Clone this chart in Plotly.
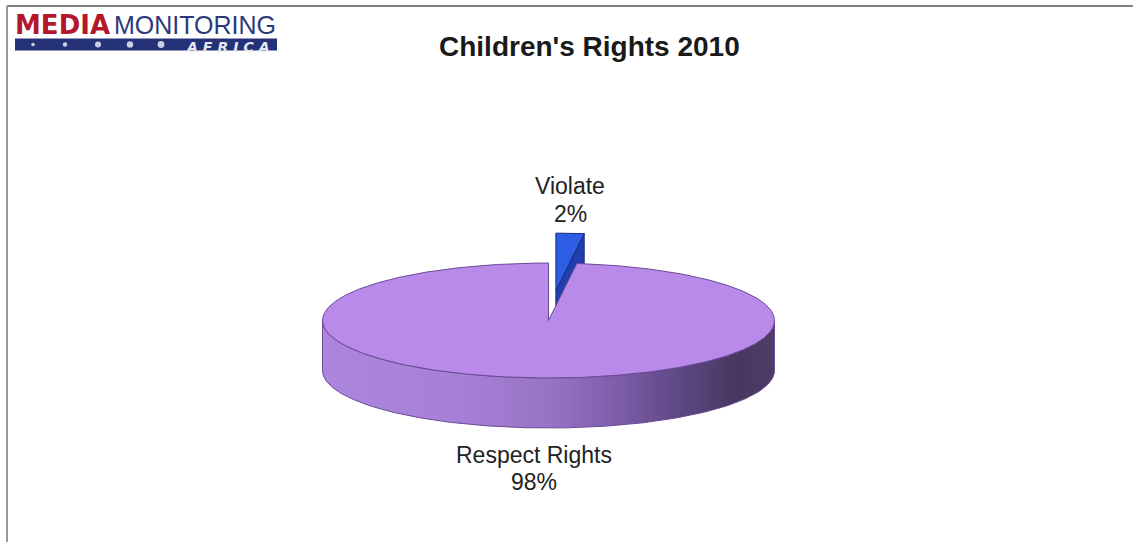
import numpy as np
import plotly.graph_objects as go

# ---- data ----
labels = ["Violate", "Respect Rights"]
values = [2, 98]
top_colors = ["#2c5de4", "#b98aea"]
wall_colors = ["#1f3fae", "#9a74c8"]
edge_colors = ["#1a2a7a", "#6a4a94"]
explode = [0.52, 0.0]
title_text = "Children's Rights 2010"

# ---- geometry (pixel space) ----
W, H = 1133, 542
CX, CY, RX, RY, DEPTH = 548.5, 320.5, 226.0, 57.5, 50.0

total = sum(values)
fracs = [v / total for v in values]
starts = np.concatenate([[0.0], np.cumsum(fracs)[:-1]]) * 360.0
ends = np.cumsum(fracs) * 360.0


def ell(theta_deg, ox=0.0, oy=0.0, dz=0.0):
    t = np.radians(theta_deg)
    return CX + ox + RX * np.sin(t), CY + oy - RY * np.cos(t) + dz


def offset(i):
    mid = np.radians((starts[i] + ends[i]) / 2)
    e = explode[i]
    return e * RX * np.sin(mid), -e * RY * np.cos(mid)


fig = go.Figure()


def poly(xs, ys, fill, line_color, width=1, grad=None):
    kw = dict(x=list(xs) + [xs[0]], y=list(ys) + [ys[0]], mode="lines", fill="toself",
              line=dict(color=line_color, width=width), hoverinfo="skip", showlegend=False)
    if grad is not None:
        kw["fillgradient"] = dict(type="horizontal", colorscale=grad)
    else:
        kw["fillcolor"] = fill
    fig.add_trace(go.Scatter(**kw))


side_grad = [[0.0, "#ab86dc"], [0.3, "#a680d6"], [0.5, "#9874c6"], [0.65, "#7e5eaa"],
             [0.8, "#5c4682"], [0.92, "#47375f"], [1.0, "#4e3d69"]]

# draw back slice(s) first: order by how far back the slice midpoint is
order = sorted(range(len(values)), key=lambda i: np.cos(np.radians((starts[i] + ends[i]) / 2)), reverse=True)

for i in order:
    ox, oy = offset(i)
    s, e = starts[i], ends[i]
    ax, ay = CX + ox, CY + oy
    # outer wall (front half only, 90..270)
    lo, hi = max(s, 90.0), min(e, 270.0)
    if hi > lo:
        th = np.linspace(lo, hi, 200)
        tx, ty = ell(th, ox, oy)
        bx, by = ell(th[::-1], ox, oy, DEPTH)
        poly(np.concatenate([tx, bx]), np.concatenate([ty, by]), wall_colors[i], edge_colors[i],
             grad=side_grad if i == 1 else None)
    # radial walls facing the viewer
    for th_edge, visible in ((s, np.sin(np.radians(s)) < -1e-9), (e, np.sin(np.radians(e)) > 1e-9)):
        if visible:
            px, py = ell(th_edge, ox, oy)
            poly([ax, px, px, ax], [ay, py, py + DEPTH, ay + DEPTH], wall_colors[i], edge_colors[i])
    # top face
    th = np.linspace(s, e, max(int((e - s) * 2), 12))
    tx, ty = ell(th, ox, oy)
    poly(np.concatenate([[ax], tx]), np.concatenate([[ay], ty]), top_colors[i], edge_colors[i])

# ---- annotations ----
pct = [f"{round(f * 100)}%" for f in fracs]
lab_font = dict(family="Liberation Sans, Arial, sans-serif", size=23, color="#222222")
label_pos = [(570, 186, 213.5), (534, 455, 482)]
ann = []
for i, (lx, ly1, ly2) in enumerate(label_pos):
    ann.append(dict(x=lx, y=ly1, text=labels[i], showarrow=False, xref="x", yref="y",
                    xanchor="center", yanchor="middle", font=lab_font))
    ann.append(dict(x=lx, y=ly2, text=pct[i], showarrow=False, xref="x", yref="y",
                    xanchor="center", yanchor="middle", font=lab_font))

ann.append(dict(x=589, y=46, text=f"<b>{title_text}</b>", showarrow=False, xref="x", yref="y",
                xanchor="center", yanchor="middle",
                font=dict(family="Liberation Sans, Arial, sans-serif", size=28, color="#1a1a1a")))

# logo text
ann.append(dict(x=13, y=25, text="<b>MEDIA</b>", showarrow=False, xref="x", yref="y",
                xanchor="left", yanchor="middle",
                font=dict(family="DejaVu Sans, sans-serif", size=26, color="#b3172c")))
ann.append(dict(x=112, y=25, text="MONITORING", showarrow=False, xref="x", yref="y",
                xanchor="left", yanchor="middle",
                font=dict(family="Liberation Sans, Arial, sans-serif", size=25, color="#2c3a7c")))

shapes = [
    dict(type="line", xref="x", yref="y", x0=7, x1=W, y0=6, y1=6, line=dict(color="#808080", width=2)),
    dict(type="line", xref="x", yref="y", x0=7, x1=7, y0=6, y1=H, line=dict(color="#9a9a9a", width=2)),
    dict(type="rect", xref="x", yref="y", x0=15, x1=277, y0=38.5, y1=50.5, line=dict(width=0),
         fillcolor="#253278"),
]
for dx, r in zip([33, 65, 98, 130, 161], [1.8, 2.2, 3.0, 3.2, 3.4]):
    shapes.append(dict(type="circle", xref="x", yref="y", x0=dx - r, x1=dx + r, y0=44.5 - r, y1=44.5 + r,
                       line=dict(width=0), fillcolor="#c9d0e6"))
ann.append(dict(x=230, y=47, text="<b><i><span style='letter-spacing:5px'>AFRICA</span></i></b>",
                showarrow=False, xref="x", yref="y", xanchor="center", yanchor="middle",
                font=dict(family="DejaVu Sans, sans-serif", size=14, color="#e6e8f0")))

fig.update_layout(
    width=W, height=H, margin=dict(l=0, r=0, t=0, b=0),
    paper_bgcolor="white", plot_bgcolor="white",
    xaxis=dict(range=[0, W], visible=False, fixedrange=True),
    yaxis=dict(range=[H, 0], visible=False, fixedrange=True),
    annotations=ann, shapes=shapes, showlegend=False,
)

fig.write_html("out.html")
